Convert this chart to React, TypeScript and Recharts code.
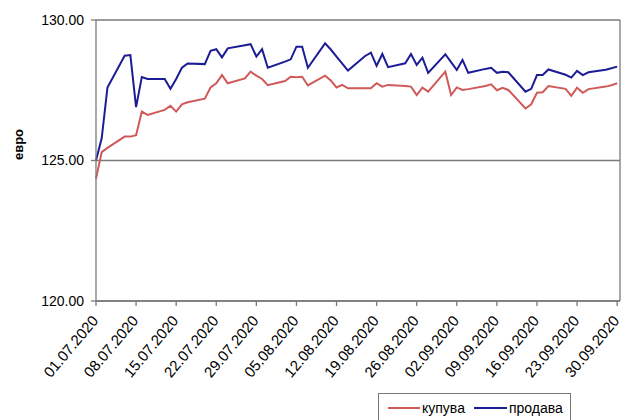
import { CartesianGrid, Line, LineChart, ReferenceLine, XAxis, YAxis } from "recharts";

const dates = [
  "01.07.2020", "02.07.2020", "03.07.2020",
  "06.07.2020", "07.07.2020", "08.07.2020", "09.07.2020", "10.07.2020",
  "13.07.2020", "14.07.2020", "15.07.2020", "16.07.2020", "17.07.2020",
  "20.07.2020", "21.07.2020", "22.07.2020", "23.07.2020", "24.07.2020",
  "27.07.2020", "28.07.2020", "29.07.2020", "30.07.2020", "31.07.2020",
  "03.08.2020", "04.08.2020", "05.08.2020", "06.08.2020", "07.08.2020",
  "10.08.2020", "11.08.2020", "12.08.2020", "13.08.2020", "14.08.2020",
  "17.08.2020", "18.08.2020", "19.08.2020", "20.08.2020", "21.08.2020",
  "24.08.2020", "25.08.2020", "26.08.2020", "27.08.2020", "28.08.2020",
  "31.08.2020", "01.09.2020", "02.09.2020", "03.09.2020", "04.09.2020",
  "07.09.2020", "08.09.2020", "09.09.2020", "10.09.2020", "11.09.2020",
  "14.09.2020", "15.09.2020", "16.09.2020", "17.09.2020", "18.09.2020",
  "21.09.2020", "22.09.2020", "23.09.2020", "24.09.2020", "25.09.2020",
  "28.09.2020", "29.09.2020", "30.09.2020",
];

// купува
const buy = [
  124.35, 125.3, 125.45,
  125.85, 125.85, 125.9, 126.74, 126.62,
  126.8, 126.95, 126.74, 127.0, 127.07,
  127.2, 127.6, 127.75, 128.04, 127.75,
  127.92, 128.16, 128.02, 127.9, 127.68,
  127.83, 127.98, 127.96, 127.98, 127.67,
  128.02, 127.85, 127.6, 127.69, 127.57,
  127.57, 127.57, 127.75, 127.63, 127.69,
  127.65, 127.63, 127.33, 127.59, 127.45,
  128.16, 127.33, 127.6, 127.51, 127.54,
  127.65, 127.71, 127.5, 127.59, 127.51,
  126.85, 127.0, 127.41, 127.43, 127.65,
  127.55, 127.3, 127.59, 127.41, 127.54,
  127.63, 127.68, 127.75,
];

// продава
const sell = [
  125.0, 125.8, 127.6,
  128.73, 128.75, 126.9, 127.97, 127.9,
  127.9, 127.55, 127.9, 128.3, 128.45,
  128.43, 128.9, 128.96, 128.67, 128.99,
  129.1, 129.14, 128.7, 128.96, 128.3,
  128.52, 128.6, 129.05, 129.05, 128.3,
  129.17, 128.95, 128.7, 128.45, 128.2,
  128.72, 128.84, 128.37, 128.79, 128.32,
  128.46, 128.79, 128.4, 128.66, 128.12,
  128.78, 128.5, 128.22, 128.58, 128.12,
  128.26, 128.3, 128.12, 128.16, 128.14,
  127.45, 127.55, 128.04, 128.04, 128.24,
  128.05, 127.95, 128.19, 128.04, 128.14,
  128.23, 128.28, 128.34,
];

const tickLabels = [
  "01.07.2020", "08.07.2020", "15.07.2020", "22.07.2020", "29.07.2020",
  "05.08.2020", "12.08.2020", "19.08.2020", "26.08.2020", "02.09.2020",
  "09.09.2020", "16.09.2020", "23.09.2020", "30.09.2020",
];

const yTicks = [120, 125, 130];

const dayOf = (s: string) => {
  const [d, m, y] = s.split(".").map(Number);
  return (Date.UTC(y, m - 1, d) - Date.UTC(2020, 6, 1)) / 86400000;
};

const labelByDay: Record<number, string> = {};
tickLabels.forEach((t) => (labelByDay[dayOf(t)] = t));

const data = dates.map((d, i) => ({ day: dayOf(d), buy: buy[i], sell: sell[i] }));

const FONT = "'Liberation Sans', Arial, sans-serif";

const DateTick = (props: any) => {
  const { x, y, payload } = props;
  return (
    <g transform={`translate(${x + 3},${y + 13})`}>
      <text x={0} y={0} textAnchor="end" transform="rotate(-50)" fontSize={15} fontFamily={FONT} fill="#000">
        {labelByDay[payload.value]}
      </text>
    </g>
  );
};

const App = () => {
  return (
    <div style={{ position: "absolute", left: 0, top: 0, width: 622, height: 420, background: "#fff" }}>
      <LineChart width={622} height={420} data={data} margin={{ top: 20, right: 2, left: 0, bottom: 0 }}>
        <CartesianGrid vertical={false} horizontalValues={yTicks} stroke="#7a7a7a" strokeWidth={1.3} />
        <XAxis
          dataKey="day"
          type="number"
          domain={[0, 91.5]}
          ticks={tickLabels.map(dayOf)}
          tick={<DateTick />}
          height={119}
          stroke="#7a7a7a"
          strokeWidth={1.3}
          tickSize={5}
          interval={0}
        />
        <YAxis
          domain={[120, 130]}
          ticks={yTicks}
          tickFormatter={(v: number) => v.toFixed(2)}
          width={96}
          stroke="#7a7a7a"
          strokeWidth={1.3}
          tickSize={5}
          tickMargin={7}
          tick={{ fill: "#000", fontSize: 14, fontFamily: FONT }}
          label={{
            value: "евро",
            angle: -90,
            position: "insideLeft",
            offset: 18,
            dy: -16,
            style: { fill: "#000", fontSize: 13, fontWeight: "bold", fontFamily: FONT, textAnchor: "middle" },
          }}
        />
        <ReferenceLine x={91.5} stroke="#7a7a7a" strokeWidth={1.3} />
        <Line type="linear" dataKey="buy" stroke="#d05a5a" strokeWidth={2} dot={false} isAnimationActive={false} />
        <Line type="linear" dataKey="sell" stroke="#1c1c96" strokeWidth={2} dot={false} isAnimationActive={false} />
      </LineChart>
      <div
        style={{
          position: "absolute",
          left: 378,
          top: 393,
          width: 193,
          height: 30,
          border: "1px solid #777",
          boxSizing: "border-box",
          display: "flex",
          alignItems: "center",
          fontFamily: FONT,
          fontSize: 14,
          color: "#000",
        }}
      >
        <span style={{ display: "inline-block", width: 32, height: 2, background: "#d05a5a", marginLeft: 9 }} />
        <span style={{ marginLeft: 2 }}>купува</span>
        <span style={{ display: "inline-block", width: 33, height: 2, background: "#1c1c96", marginLeft: 9 }} />
        <span style={{ marginLeft: 2 }}>продава</span>
      </div>
    </div>
  );
};

export default App;
